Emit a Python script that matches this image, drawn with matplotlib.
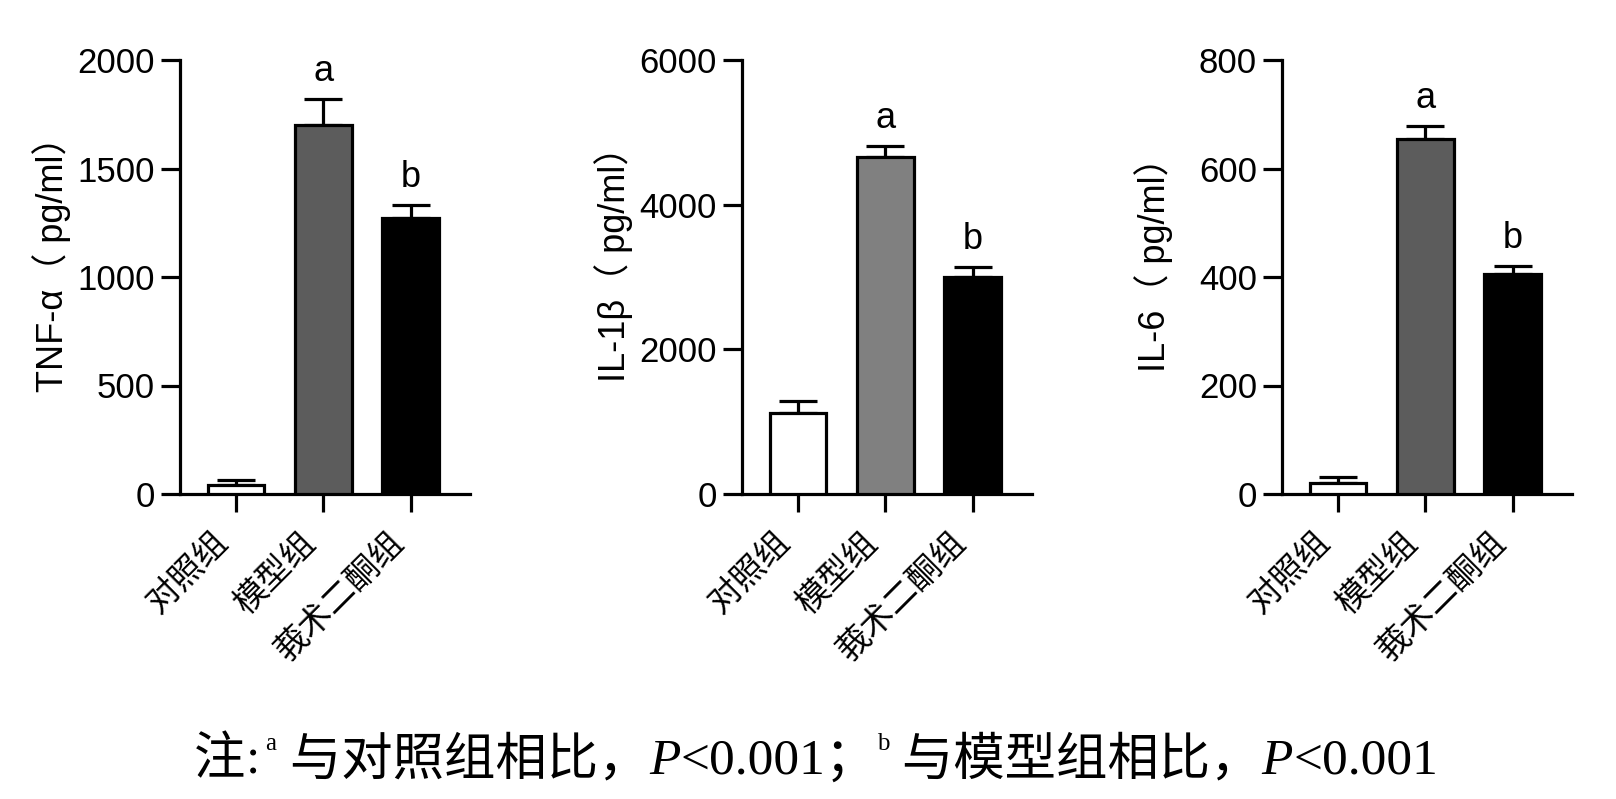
import matplotlib
matplotlib.use("Agg")
import matplotlib.pyplot as plt
import numpy as np

# 数据
groups = ["对照组", "模型组", "莪术二酮组"]

tnf_mean = [43, 1700, 1272]
tnf_err = [23, 118, 60]

il1b_mean = [1120, 4655, 2995]
il1b_err = [160, 160, 140]

il6_mean = [20, 654, 406]
il6_err = [12, 25, 14]

sig_letters = ["", "a", "b"]

panels = [
    ("TNF-α（ pg/ml）", tnf_mean, tnf_err, 2000, [0, 500, 1000, 1500, 2000], "#5c5c5c"),
    ("IL-1β（ pg/ml）", il1b_mean, il1b_err, 6000, [0, 2000, 4000, 6000], "#808080"),
    ("IL-6（ pg/ml）", il6_mean, il6_err, 800, [0, 200, 400, 600, 800], "#5c5c5c"),
]

sans = ["Liberation Sans", "Noto Sans CJK SC", "DejaVu Sans"]
cjk = ["Noto Sans CJK SC", "DejaVu Sans"]
serif = ["Liberation Serif", "Noto Sans CJK SC", "DejaVu Sans"]

W, H = 1616, 799
fig = plt.figure(figsize=(W / 100, H / 100), dpi=100)

lefts = [180, 742, 1282]
ax_w = 290
top_px, bot_px = 60, 494
lw = 2.3

for left, (ylab, mean, err, ymax, ticks, mid_color) in zip(lefts, panels):
    ax = fig.add_axes([left / W, (H - bot_px) / H, ax_w / W, (bot_px - top_px) / H])
    x = np.arange(len(groups))
    colors = ["white", mid_color, "black"]
    ax.bar(x, mean, width=0.65, color=colors, edgecolor="black", linewidth=lw, zorder=3)
    ax.errorbar(x, mean, yerr=[np.zeros(len(err)), err], fmt="none", ecolor="black",
                elinewidth=lw, capsize=14, capthick=lw, zorder=2)
    for xi, m, e, s in zip(x, mean, err, sig_letters):
        if s:
            ax.annotate(s, (xi, m + e), textcoords="offset points", xytext=(0, 13),
                        ha="center", va="baseline", fontsize=26, family=sans)

    ax.set_xlim(-0.64, 2.68)
    ax.set_ylim(0, ymax)
    ax.set_yticks(ticks)
    ax.set_yticklabels([str(t) for t in ticks], fontsize=25, family=sans)
    ax.set_xticks(x)
    ax.set_xticklabels(groups, rotation=45, ha="right", va="top", fontsize=24, family=cjk)
    ax.set_ylabel(ylab, fontsize=26, family=sans)
    ax.yaxis.set_label_coords(-0.375, 0.55)
    for side in ["top", "right"]:
        ax.spines[side].set_visible(False)
    for side in ["left", "bottom"]:
        ax.spines[side].set_linewidth(lw)
    ax.tick_params(axis="y", length=14, width=lw, pad=4)
    ax.tick_params(axis="x", length=13, width=lw, pad=9)

# 注释（分段绘制，以便 P 用斜体、a/b 用上标）
renderer = fig.canvas.get_renderer()
cap_y = 1 - 756 / H
segments = [
    ("注", 37, "normal", 0),
    (":", 37, "normal", 0),
    ("a", 18, "normal", 15),
    (" 与对照组相比，", 37, "normal", 0),
    ("P", 37, "italic", 0),
    ("<0.001；", 37, "normal", 0),
    ("b", 18, "normal", 15),
    (" 与模型组相比，", 37, "normal", 0),
    ("P", 37, "italic", 0),
    ("<0.001", 37, "normal", 0),
]
texts = []
xpos = 0.0
for s, size, style, rise in segments:
    t = fig.text(0, cap_y + rise / H, s, fontsize=size, fontstyle=style, family=serif,
                 ha="left", va="center_baseline")
    w = t.get_window_extent(renderer).width
    texts.append((t, xpos))
    xpos += w + (6 if s == ":" else 0)
start = 816 - xpos / 2
for t, off in texts:
    t.set_x((start + off) / W)

fig.savefig("out.png", dpi=100)
